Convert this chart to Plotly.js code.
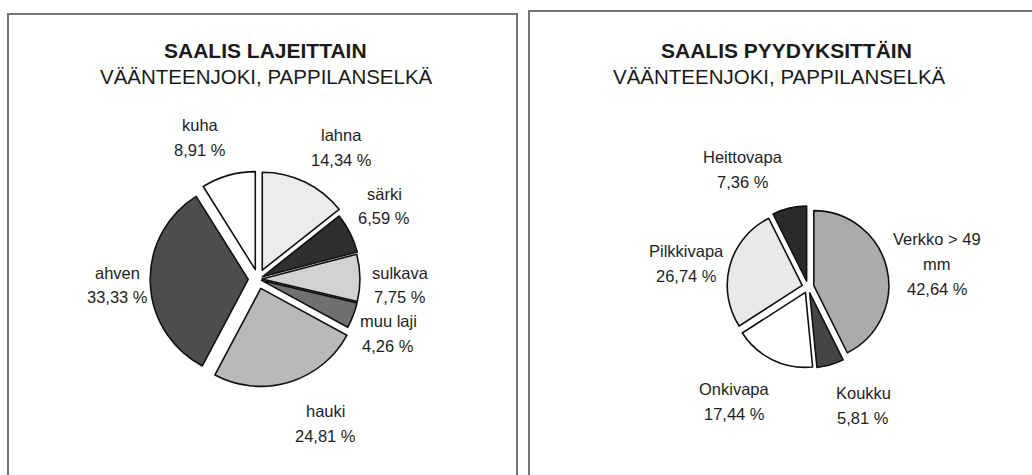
<!DOCTYPE html>
<html>
<head>
<meta charset="utf-8">
<script src="https://cdn.plot.ly/plotly-3.0.1.min.js"></script>
<style>
  html, body { margin: 0; padding: 0; background: #ffffff; }
  #chart { width: 1032px; height: 475px; }
</style>
</head>
<body>
<div id="chart"></div>
<script>
// ---------- data ----------
const speciesLabels = ['lahna', 'särki', 'sulkava', 'muu laji', 'hauki', 'ahven', 'kuha'];
const speciesValues = [14.34, 6.59, 7.75, 4.26, 24.81, 33.33, 8.91];

const gearLabels = ['Verkko > 49 mm', 'Koukku', 'Onkivapa', 'Pilkkivapa', 'Heittovapa'];
const gearValues = [42.64, 5.81, 17.44, 26.74, 7.36];

const leftTitle = 'SAALIS LAJEITTAIN';
const rightTitle = 'SAALIS PYYDYKSITTÄIN';
const subTitle = 'VÄÄNTEENJOKI, PAPPILANSELKÄ';

// ---------- styles / layout constants ----------
const W = 1032, H = 475;
const speciesColors = ['#ececec', '#2f2f2f', '#d2d2d2', '#707070', '#b9b9b9', '#4d4d4d', '#ffffff'];
const speciesPull = [0.10, 0.05, 0.04, 0.04, 0.10, 0.10, 0.10];
const gearColors = ['#ababab', '#454545', '#ffffff', '#e9e9e9', '#2b2b2b'];
const gearPull = [0.08, 0.08, 0.08, 0.08, 0.08];

// pie geometry (pixels): centre and radius
const leftPie = {cx: 258, cy: 279, r: 98};
const rightPie = {cx: 808, cy: 287, r: 75};

// label block centres (pixels) for the data labels
const speciesLabelPos = [[341, 147.5], [384, 206], [400, 285], [388, 333.5], [325, 423.5], [117, 285], [200, 137.5]];
const gearLabelPos = [[937, 264], [863, 405.5], [734, 401.5], [686, 263.5], [743, 169.5]];

const LINE_H = 24.5;
const labelFont = {family: 'Liberation Sans, Arial, sans-serif', size: 16.5, color: '#1e1e1e'};

function domainFor(p, pulls) {
  const half = p.r * (1 + Math.max(...pulls));
  return {
    x: [(p.cx - half) / W, (p.cx + half) / W],
    y: [1 - (p.cy + half) / H, 1 - (p.cy - half) / H]
  };
}

function fmtPct(v) { return v.toFixed(2).replace('.', ',') + ' %'; }

function wrap(label, maxChars) {
  if (label.length <= maxChars) return [label];
  const words = label.split(' ');
  const lines = [];
  let cur = '';
  words.forEach(w => {
    if ((cur + ' ' + w).trim().length > maxChars && cur) { lines.push(cur); cur = w; }
    else cur = (cur + ' ' + w).trim();
  });
  if (cur) lines.push(cur);
  return lines;
}

function labelAnnotations(labels, values, positions) {
  const out = [];
  labels.forEach((lab, i) => {
    const lines = wrap(lab, 11).concat([fmtPct(values[i])]);
    const [px, py] = positions[i];
    const top = py - (lines.length - 1) * LINE_H / 2;
    lines.forEach((t, j) => {
      out.push({
        xref: 'paper', yref: 'paper',
        x: px / W, y: 1 - (top + j * LINE_H) / H,
        xanchor: 'center', yanchor: 'middle',
        text: t, showarrow: false, font: labelFont
      });
    });
  });
  return out;
}

const traces = [
  {
    type: 'pie',
    labels: speciesLabels,
    values: speciesValues,
    sort: false,
    direction: 'clockwise',
    rotation: 0,
    pull: speciesPull,
    textinfo: 'none',
    hoverinfo: 'label+percent',
    marker: {colors: speciesColors, line: {color: '#111111', width: 1.6}},
    domain: domainFor(leftPie, speciesPull),
    showlegend: false
  },
  {
    type: 'pie',
    labels: gearLabels,
    values: gearValues,
    sort: false,
    direction: 'clockwise',
    rotation: 0,
    pull: gearPull,
    textinfo: 'none',
    hoverinfo: 'label+percent',
    marker: {colors: gearColors, line: {color: '#111111', width: 1.6}},
    domain: domainFor(rightPie, gearPull),
    showlegend: false
  }
];

const titleFontBold = {family: 'Liberation Sans, Arial, sans-serif', size: 21, color: '#1a1a1a', weight: 'bold'};
const titleFont = {family: 'Liberation Sans, Arial, sans-serif', size: 20.5, color: '#1a1a1a'};

const annotations = [
  {xref: 'paper', yref: 'paper', x: 265 / W, y: 1 - 50.5 / H, xanchor: 'center', yanchor: 'middle',
   text: '<b>' + leftTitle + '</b>', showarrow: false, font: titleFontBold},
  {xref: 'paper', yref: 'paper', x: 266 / W, y: 1 - 76 / H, xanchor: 'center', yanchor: 'middle',
   text: subTitle, showarrow: false, font: titleFont},
  {xref: 'paper', yref: 'paper', x: 786 / W, y: 1 - 50.5 / H, xanchor: 'center', yanchor: 'middle',
   text: '<b>' + rightTitle + '</b>', showarrow: false, font: titleFontBold},
  {xref: 'paper', yref: 'paper', x: 779 / W, y: 1 - 76 / H, xanchor: 'center', yanchor: 'middle',
   text: subTitle, showarrow: false, font: titleFont}
].concat(labelAnnotations(speciesLabels, speciesValues, speciesLabelPos))
 .concat(labelAnnotations(gearLabels, gearValues, gearLabelPos));

const boxLine = {color: '#757575', width: 2};
const shapes = [
  {type: 'rect', xref: 'paper', yref: 'paper', x0: 8 / W, x1: 517 / W, y0: -0.05, y1: 1 - 14 / H,
   line: boxLine, fillcolor: 'rgba(0,0,0,0)', layer: 'below'},
  {type: 'rect', xref: 'paper', yref: 'paper', x0: 529 / W, x1: 1.05, y0: -0.05, y1: 1 - 11 / H,
   line: boxLine, fillcolor: 'rgba(0,0,0,0)', layer: 'below'}
];

const layout = {
  width: W, height: H,
  margin: {l: 0, r: 0, t: 0, b: 0},
  paper_bgcolor: '#ffffff',
  plot_bgcolor: '#ffffff',
  showlegend: false,
  annotations: annotations,
  shapes: shapes,
  font: {family: 'Liberation Sans, Arial, sans-serif'}
};

Plotly.newPlot('chart', traces, layout, {displayModeBar: false, staticPlot: true});
</script>
</body>
</html>
